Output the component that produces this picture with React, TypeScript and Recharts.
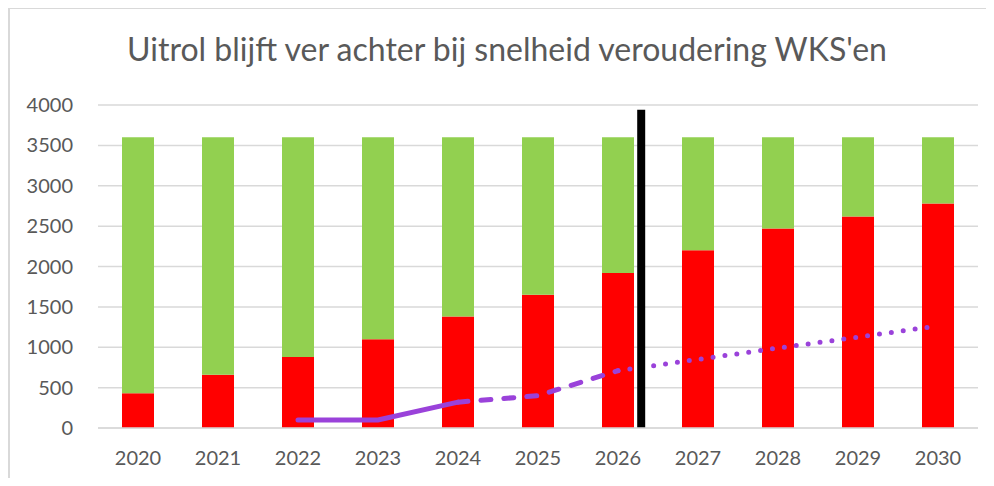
import React from "react";
import {
  ComposedChart,
  Bar,
  Line,
  XAxis,
  YAxis,
  CartesianGrid,
  ReferenceLine,
} from "recharts";

const years = ["2020", "2021", "2022", "2023", "2024", "2025", "2026", "2027", "2028", "2029", "2030"];
const redValues = [430, 660, 880, 1100, 1380, 1650, 1920, 2200, 2470, 2620, 2780];
const totalValues = [3600, 3600, 3600, 3600, 3600, 3600, 3600, 3600, 3600, 3600, 3600];
const solidLine: (number | null)[] = [null, null, 100, 100, 320, null, null, null, null, null, null];
const dashedLine: (number | null)[] = [null, null, null, null, 320, 400, 710, null, null, null, null];
const dottedLine: (number | null)[] = [null, null, null, null, null, null, 710, 850, 990, 1125, 1265];
const yTicks = [0, 500, 1000, 1500, 2000, 2500, 3000, 3500, 4000];
const markerCategory = "2026";
const markerBandOffset = 0.29;
const markerTop = 3940;
const title = "Uitrol blijft ver achter bij snelheid veroudering WKS'en";

const data = years.map((y, i) => ({
  year: y,
  red: redValues[i],
  green: totalValues[i] - redValues[i],
  solid: solidLine[i],
  dashed: dashedLine[i],
  dotted: dottedLine[i],
}));

const TEXT = "#595959";
const PURPLE = "#9A42DA";
const FONT = "Lato, 'Noto Sans', sans-serif";

const CHART_W = 984;
const CHART_H = 467;
const MARGIN = { top: 96, right: 16, bottom: 18, left: 28 };
const Y_AXIS_W = 60;
const plotWidth = CHART_W - MARGIN.left - MARGIN.right - Y_AXIS_W;
const bandWidth = plotWidth / years.length;

const MarkerShape = (props: any) => {
  const dx = markerBandOffset * bandWidth;
  return (
    <line
      x1={props.x1 + dx}
      y1={props.y1}
      x2={props.x2 + dx}
      y2={props.y2}
      stroke="#000"
      strokeWidth={8}
    />
  );
};

export default function App() {
  return (
    <div
      style={{
        position: "relative",
        width: 986,
        height: 478,
        marginBottom: -8,
        boxSizing: "border-box",
        borderTop: "1px solid #D9D9D9",
        borderLeft: "2px solid #D9D9D9",
        background: "#fff",
        fontFamily: FONT,
      }}
    >
      <div
        style={{
          position: "absolute",
          top: 21,
          left: 0,
          width: 994,
          textAlign: "center",
          fontSize: 32,
          lineHeight: "38px",
          color: TEXT,
          fontFamily: FONT,
          whiteSpace: "nowrap",
        }}
      >
        {title}
      </div>
      <ComposedChart width={CHART_W} height={CHART_H} data={data} margin={MARGIN}>
        <CartesianGrid vertical={false} stroke="#D9D9D9" strokeWidth={1.5} />
        <XAxis
          dataKey="year"
          tickLine={false}
          axisLine={{ stroke: "#D9D9D9", strokeWidth: 1.5 }}
          tick={{ fill: TEXT, fontSize: 20, fontFamily: FONT }}
          tickMargin={17}
          height={30}
          interval={0}
        />
        <YAxis
          domain={[0, 4000]}
          ticks={yTicks}
          tickLine={false}
          axisLine={false}
          tick={{ fill: TEXT, fontSize: 20, fontFamily: FONT }}
          tickMargin={19}
          width={Y_AXIS_W}
          interval={0}
        />
        <Bar dataKey="red" stackId="a" fill="#FF0000" barSize={32} isAnimationActive={false} />
        <Bar dataKey="green" stackId="a" fill="#92D050" barSize={32} isAnimationActive={false} />
        <Line
          dataKey="solid"
          stroke={PURPLE}
          strokeWidth={5}
          strokeLinecap="round"
          dot={false}
          activeDot={false}
          connectNulls={false}
          isAnimationActive={false}
        />
        <Line
          dataKey="dashed"
          stroke={PURPLE}
          strokeWidth={5}
          strokeLinecap="round"
          strokeDasharray="10 13"
          dot={false}
          activeDot={false}
          connectNulls={false}
          isAnimationActive={false}
        />
        <Line
          dataKey="dotted"
          stroke={PURPLE}
          strokeWidth={5}
          strokeLinecap="round"
          strokeDasharray="0 12"
          dot={false}
          activeDot={false}
          connectNulls={false}
          isAnimationActive={false}
        />
        <ReferenceLine
          segment={[
            { x: markerCategory, y: 0 },
            { x: markerCategory, y: markerTop },
          ]}
          stroke="#000"
          strokeWidth={8}
          shape={MarkerShape}
        />
      </ComposedChart>
    </div>
  );
}
